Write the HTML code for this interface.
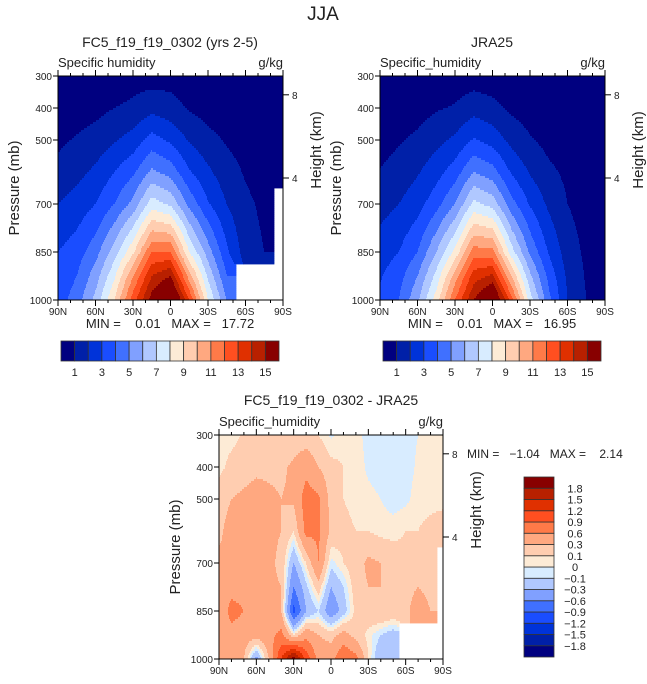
<!DOCTYPE html>
<html><head><meta charset="utf-8">
<style>
body{margin:0;background:#fff;}
svg{display:block;font-family:"Liberation Sans",sans-serif;fill:#222;}
text{fill:#222;white-space:pre;}
</style></head>
<body>
<svg id="fig" width="647" height="684" viewBox="0 0 647 684" xmlns="http://www.w3.org/2000/svg">
<text x="323" y="20" font-size="19" text-anchor="middle">JJA</text>
<text x="170" y="47" font-size="14" text-anchor="middle">FC5_f19_f19_0302 (yrs 2-5)</text>
<text x="492" y="47" font-size="14" text-anchor="middle">JRA25</text>
<text x="331" y="405" font-size="14" text-anchor="middle">FC5_f19_f19_0302 - JRA25</text>
<g id="layer"></g>
</svg>
<script>
// ---- data ----
const lats13 = [90,75,60,45,30,15,0,-15,-30,-45,-60,-75,-90];
const presTop = [300,400,500,600,700,850,925,1000];
const modelQ = [
 [0.1,0.2,0.3,0.4,0.6,0.5,0.6,0.4,0.2,0.1,0.1,0.1,0.1],
 [0.3,0.5,0.7,1.0,1.2,1.7,1.4,0.9,0.6,0.4,0.3,0.2,0.1],
 [0.8,1.1,1.4,1.9,2.4,3.4,2.8,1.9,1.3,0.9,0.6,0.4,0.3],
 [1.3,1.7,2.2,3.0,3.8,5.2,4.6,3.1,2.2,1.4,0.9,0.6,0.5],
 [2.0,2.4,3.0,4.0,5.3,7.5,6.8,4.7,3.1,2.0,1.2,0.8,NaN],
 [3.0,3.5,4.6,6.5,8.8,12,12,8.0,5.5,3.2,1.5,1.0,NaN],
 [3.2,4.0,5.5,7.8,11,14,15,10.5,6.8,4.0,NaN,NaN,NaN],
 [3.5,4.5,6.3,9.0,12.5,15.5,17.5,13,8.0,5.0,NaN,NaN,NaN]
];
const jraQ = [
 [0.1,0.15,0.2,0.3,0.4,0.5,0.4,0.3,0.2,0.1,0.1,0.1,0.1],
 [0.3,0.45,0.6,0.9,1.1,1.6,1.3,0.8,0.5,0.3,0.2,0.1,0.1],
 [0.6,0.9,1.2,1.7,2.2,3.1,2.6,1.7,1.1,0.7,0.5,0.3,0.2],
 [1.05,1.4,1.9,2.6,3.5,5.0,4.4,2.9,1.9,1.2,0.8,0.5,0.3],
 [1.6,2.0,2.6,3.6,5.0,7.3,6.6,4.4,2.9,1.8,1.0,0.6,0.4],
 [2.5,3.0,4.0,6.0,8.3,11.5,11.3,7.5,4.8,2.9,1.5,0.8,0.5],
 [2.9,3.6,5.0,7.3,10.5,13.5,14.2,10,6.2,3.7,1.8,0.9,0.6],
 [3.2,4.0,5.8,8.5,12,15,17,12.5,7.5,4.3,2.0,1.0,0.7]
];
const lats19 = [90,80,70,60,50,40,30,20,10,0,-10,-20,-30,-40,-50,-60,-70,-80,-90];
const presDiff = [300,400,500,600,700,775,850,925,1000];
const diffQ = [
 [0.05,0.05,0.12,0.15,0.15,0.12,0.15,0.15,0.1,-0.02,0.05,0.03,-0.03,-0.05,-0.05,-0.04,0.0,0.05,0.05],
 [0.05,0.15,0.2,0.25,0.25,0.25,0.35,0.5,0.3,0.15,0.1,0.05,-0.02,-0.05,-0.05,-0.05,0.02,0.05,0.05],
 [0.2,0.3,0.35,0.4,0.35,0.3,0.35,0.75,0.65,0.2,0.1,0.05,0.03,0.0,-0.05,-0.03,0.05,0.05,0.05],
 [0.25,0.4,0.45,0.3,0.35,0.3,0.1,0.7,0.65,0.25,0.15,0.1,0.1,0.05,0.05,0.1,0.1,0.15,0.2],
 [0.35,0.35,0.35,0.35,0.35,0.25,-0.3,0.1,0.6,-0.05,0.1,0.2,0.35,0.3,0.2,0.15,0.2,0.15,NaN],
 [0.4,0.5,0.5,0.4,0.35,0.3,-0.6,-0.15,0.2,-0.3,-0.1,0.2,0.3,0.3,0.2,0.2,0.3,0.2,NaN],
 [0.4,0.7,0.6,0.4,0.35,0.3,-1.0,-0.3,-0.1,-0.5,-0.2,0.15,0.25,0.3,0.25,0.2,0.5,0.3,NaN],
 [0.4,0.5,0.45,0.4,0.5,0.7,0.1,0.5,0.3,0.2,0.4,0.2,0.05,-0.1,-0.2,NaN,NaN,NaN,NaN],
 [0.35,0.4,0.3,-0.4,0.3,1.2,2.0,1.1,0.5,0.5,0.9,0.7,0.1,-0.3,-0.2,NaN,NaN,NaN,NaN]
];
const qLevels = [1,2,3,4,5,6,7,8,9,10,11,12,13,14,15];
const qLabels = ["1","3","5","7","9","11","13","15"];
const dLevels = [-1.8,-1.5,-1.2,-0.9,-0.6,-0.3,-0.1,0,0.1,0.3,0.6,0.9,1.2,1.5,1.8];
const dLabels = ["-1.8","-1.5","-1.2","-0.9","-0.6","-0.3","-0.1","0","0.1","0.3","0.6","0.9","1.2","1.5","1.8"];
const palette = ["#000080","#0020a8","#0033d9","#1a4dff","#4070ff","#80a0ff","#b0c8ff","#d8ecff","#fdebd6","#ffcdb0","#ffa880","#ff7a48","#ff4f20","#e03000","#b82000","#880000"];
const latTicks = [90,60,30,0,-30,-60,-90];
const latTickLabels = ["90N","60N","30N","0","30S","60S","90S"];
const presTicks = [300,400,500,700,850,1000];
const kmTicks = [8,4];

// ---- helpers ----
const NS="http://www.w3.org/2000/svg";
const layer=document.getElementById('layer');
function mk(tag,attrs,parent){const e=document.createElementNS(NS,tag);for(const k in attrs)e.setAttribute(k,attrs[k]);(parent||layer).appendChild(e);return e;}
function colorIdx(v,levels){let i=0;while(i<levels.length&&v>=levels[i])i++;return i;}
function sample(lats,pres,grid,lat,p){
  let j=0;while(j<lats.length-2&&lat<lats[j+1])j++;
  let i=0;while(i<pres.length-2&&p>pres[i+1])i++;
  const tx=(lats[j]-lat)/(lats[j]-lats[j+1]);const ty=(p-pres[i])/(pres[i+1]-pres[i]);
  const nj=tx<0.5?j:j+1, ni=ty<0.5?i:i+1;
  if(isNaN(grid[ni][nj]))return NaN;
  const c=[[grid[i][j],(1-tx)*(1-ty)],[grid[i][j+1],tx*(1-ty)],[grid[i+1][j],(1-tx)*ty],[grid[i+1][j+1],tx*ty]];
  let s=0,w=0;for(const [v,wt] of c){if(!isNaN(v)){s+=v*wt;w+=wt;}}
  return w>0?s/w:NaN;
}
function panel(name,x0,y0,w,h,lats,pres,grid,levels,opts){
  const g=mk('g',{});
  
  
  const xOf=lat=>x0+(90-lat)/180*w;
  const yOf=p=>y0+(p-300)/700*h;
  const dy=2;
  for(let py=0;py<h;py+=dy){
    const p=300+(py+dy/2)/h*700;
    let runStart=0,runC=null;
    for(let px=0;px<=w;px++){
      let c=null;
      if(px<w){const lat=90-(px+0.5)/w*180;const v=sample(lats,pres,grid,lat,p);c=isNaN(v)?null:colorIdx(v,levels);}
      if(px===w||c!==runC){
        if(runC!==null&&px>runStart){
          const r=mk('rect',{x:x0+runStart,y:y0+py,width:px-runStart+0.4,height:dy+0.4,fill:palette[runC]},g);
          
          
        }
        runStart=px;runC=c;
      }
    }
  }
  const ax=mk('g',{stroke:'#000','stroke-width':1,fill:'none'});
  
  
  mk('rect',{x:x0,y:y0,width:w,height:h},ax);
  for(let lat=90;lat>=-90;lat-=10){
    const major=latTicks.includes(lat);const L=major?6:3;const x=xOf(lat);
    mk('line',{x1:x,y1:y0,x2:x,y2:y0-L},ax);
    mk('line',{x1:x,y1:y0+h,x2:x,y2:y0+h+L},ax);
  }
  latTicks.forEach((lat,k)=>{const t=mk('text',{x:xOf(lat),y:y0+h+15,'font-size':10,'text-anchor':'middle'});t.textContent=latTickLabels[k];
    
    });
  presTicks.forEach(p=>{const y=yOf(p);mk('line',{x1:x0,y1:y,x2:x0-5,y2:y},ax);
    const t=mk('text',{x:x0-6,y:y+4,'font-size':10,'text-anchor':'end'});t.textContent=p;
    
    });
  kmTicks.forEach(km=>{const p=1067*Math.exp(-km/7.34);const y=yOf(p);mk('line',{x1:x0+w,y1:y,x2:x0+w+6,y2:y},ax);
    const t=mk('text',{x:x0+w+9,y:y+4,'font-size':10});t.textContent=km;
    
    });
  const t1=mk('text',{x:x0,y:y0-9,'font-size':13});t1.textContent=opts.left;
  
  
  const t2=mk('text',{x:x0+w,y:y0-9,'font-size':13,'text-anchor':'end'});t2.textContent='g/kg';
  
  
  const yl=mk('text',{x:0,y:0,'font-size':15,'text-anchor':'middle',transform:`translate(${x0-39},${y0+h/2}) rotate(-90)`});yl.textContent='Pressure (mb)';
  
  
  const hl=mk('text',{x:0,y:0,'font-size':15,'text-anchor':'middle',transform:`translate(${x0+w+38},${opts.hy}) rotate(-90)`});hl.textContent='Height (km)';
  
  
}
function hbar(name,x0,y0,w,h){
  const g=mk('g',{});
  
  
  const bw=w/palette.length;
  palette.forEach((c,k)=>{const r=mk('rect',{x:x0+k*bw,y:y0,width:bw,height:h,fill:c,stroke:'#333','stroke-width':0.8},g);
    
    });
  qLabels.forEach((s,k)=>{const t=mk('text',{x:x0+(2*k+1)*bw,y:y0+h+15,'font-size':11,'text-anchor':'middle'},g);t.textContent=s;
    
    });
}
function vbar(name,x0,y0,w,h){
  const g=mk('g',{});
  
  
  const bh=h/palette.length;
  palette.forEach((c,k)=>{const r=mk('rect',{x:x0,y:y0+h-(k+1)*bh,width:w,height:bh,fill:c,stroke:'#333','stroke-width':0.8},g);
    
    });
  dLabels.forEach((s,k)=>{const t=mk('text',{x:x0+w+21,y:y0+h-(k+1)*bh+4,'font-size':11,'text-anchor':'middle'},g);t.textContent=s.replace('-','\u2212');
    
    });
}
panel('model-contour-plot',58,76,225,224,lats13,presTop,modelQ,qLevels,{left:'Specific humidity',hy:150});
panel('jra-contour-plot',380,76,225,224,lats13,presTop,jraQ,qLevels,{left:'Specific_humidity',hy:150});
panel('diff-contour-plot',219,435,224,224,lats19,presDiff,diffQ,dLevels,{left:'Specific_humidity',hy:510});
hbar('model-colorbar',61,341,218,20);
hbar('jra-colorbar',383,341,218,20);
vbar('diff-colorbar',524,477,30,180);
function txt(name,x,y,s,size,anchor){const t=mk('text',{x:x,y:y,'font-size':size,'text-anchor':anchor||'start'});t.textContent=s;
  
  }
txt('model-min-max',170,328,'MIN =    0.01   MAX =   17.72',13,'middle');
txt('jra-min-max',492,328,'MIN =    0.01   MAX =   16.95',13,'middle');
txt('diff-min-max',467,458,'MIN =   \u22121.04   MAX =    2.14',12,'start');
</script>
</body></html>
